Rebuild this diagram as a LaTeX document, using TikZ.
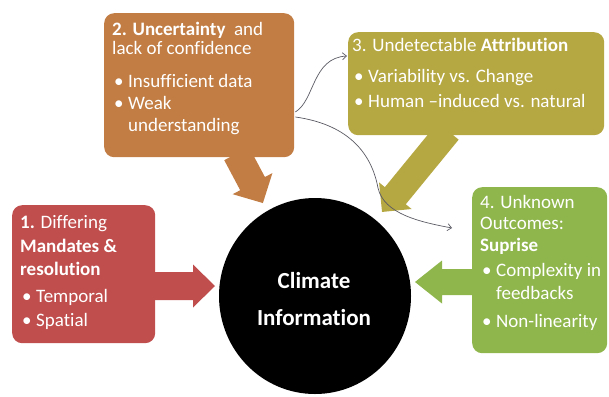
\documentclass[tikz,border=0pt]{standalone}
\usepackage{fontspec}
\setmainfont{Carlito}[Ligatures=NoCommon]
\usetikzlibrary{shapes.geometric,calc,arrows.meta}
\definecolor{cred}{RGB}{192,78,77}
\definecolor{cbrown}{RGB}{193,125,68}
\definecolor{colive}{RGB}{181,167,66}
\definecolor{cgreen}{RGB}{143,182,76}
\definecolor{cline}{RGB}{90,90,100}
\newcommand{\mybul}{\makebox[16pt][l]{\hspace{2pt}\textbullet}}
\tikzset{pics/barrow/.style n args={4}{code={%
  \fill[pic actions] (0,-#2) -- ({#1-#4},-#2) -- ({#1-#4},-#3) -- (#1,0) -- ({#1-#4},#3) -- ({#1-#4},#2) -- (0,#2) -- cycle;}}}
\begin{document}
\begin{tikzpicture}[x=1pt,y=-1pt,
  box/.style={rectangle, rounded corners=10pt, anchor=north west, inner sep=0pt},
  txt/.style={anchor=base west, inner sep=0pt, text=white, font=\fontsize{19}{23}\selectfont},
  ctxt/.style={anchor=base, inner sep=0pt, text=white, font=\fontsize{23}{28}\selectfont\bfseries},
  thinarrow/.style={draw=cline, line width=0.7pt, -{Straight Barb[length=4pt,width=7pt]}}
]
\useasboundingbox (0,0) rectangle (609,396);

% block arrows (drawn under the boxes)
\pic[fill=cred] (a1) at (150,286) {barrow={65}{14}{21.5}{22}};
\pic[fill=cbrown, rotate=-62] (a2) at (236.6,153.6) {barrow={56}{14}{22.5}{22}};
\pic[fill=colive, rotate=-129.3] (a3) at (448.2,131.1) {barrow={104.5}{13.5}{21}{21}};
\pic[fill=cgreen, rotate=180] (a4) at (478,282) {barrow={63}{13}{21.5}{27}};

% boxes
\node[box, fill=cred, minimum width=143pt, minimum height=138pt] (b1) at (12,205) {};
\node[box, fill=cbrown, minimum width=190pt, minimum height=144pt] (b2) at (104,13) {};
\node[box, fill=colive, minimum width=256pt, minimum height=103pt] (b3) at (348,32) {};
\node[box, fill=cgreen, minimum width=135pt, minimum height=166pt] (b4) at (472,187) {};

% box 1 text
\node[txt] (t1a) at (20,228) {\textbf{1.} Differing};
\node[txt] (t1b) at (20,252) {\textbf{Mandates \&}};
\node[txt] (t1c) at (20,275) {\textbf{resolution}};
\node[txt] (t1d) at (20,302) {\mybul Temporal};
\node[txt] (t1e) at (20,326) {\mybul Spatial};

% box 2 text
\node[txt] (t2a) at (112,35) {\textbf{2. Uncertainty}\ \ and};
\node[txt] (t2b) at (112,55) {lack of confidence};
\node[txt] (t2c) at (112,87) {\mybul Insufficient data};
\node[txt] (t2d) at (112,109) {\mybul Weak};
\node[txt] (t2e) at (128,131) {understanding};

% box 3 text
\node[txt] (t3a) at (352,52) {3. Undetectable \textbf{Attribution}};
\node[txt] (t3b) at (352,82) {\mybul Variability vs. Change};
\node[txt] (t3c) at (352,107) {\mybul Human –induced vs. natural};

% box 4 text
\node[txt] (t4a) at (480,208) {4. Unknown};
\node[txt] (t4b) at (480,229) {Outcomes:};
\node[txt] (t4c) at (480,251) {\textbf{Suprise}};
\node[txt] (t4d) at (480,276) {\mybul Complexity in};
\node[txt] (t4e) at (496,299) {feedbacks};
\node[txt] (t4f) at (480,327) {\mybul Non-linearity};

% central ellipse
\node[ellipse, fill=black, inner sep=0pt, minimum width=192pt, minimum height=196pt] (ci) at (315,296) {};
\node[ctxt] (c1) at (314,288) {Climate};
\node[ctxt] (c2) at (314,325) {Information};

% thin curved arrows
\coordinate (s1) at ($(b2.north east)+(1,99)$);
\coordinate (s2) at ($(b2.north east)+(1,104)$);
\coordinate (e1) at ($(b3.north west)+(-1,24)$);
\coordinate (e2) at (452,228);
\draw[thinarrow] (s1) .. controls (315,100) and (312,58) .. (e1);
\draw[thinarrow] (s2) .. controls (345,124) and (371,150) .. (378,188) .. controls (384,214) and (420,222) .. (e2);
\end{tikzpicture}
\end{document}
